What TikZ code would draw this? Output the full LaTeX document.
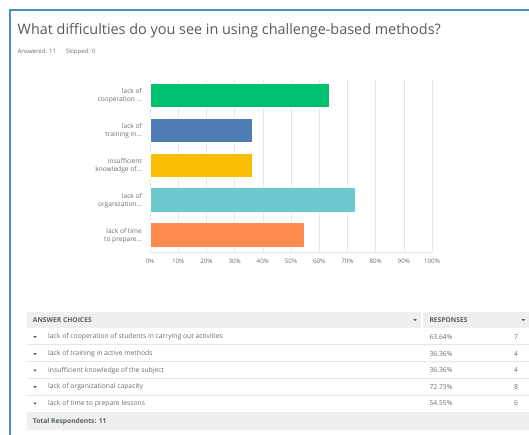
\documentclass[tikz,border=0pt]{standalone}
\usepackage{fontspec}
\setmainfont{Open Sans}
\definecolor{framec}{HTML}{4A90BF}
\definecolor{titlec}{HTML}{555A5F}
\definecolor{txtc}{HTML}{6B6E72}
\definecolor{gridc}{HTML}{E6E6E6}
\definecolor{hdrc}{HTML}{EEEFEF}
\definecolor{cgreen}{HTML}{00BF6F}
\definecolor{cblue}{HTML}{507CB6}
\definecolor{cyellow}{HTML}{F9BE00}
\definecolor{cteal}{HTML}{6BC8CD}
\definecolor{corange}{HTML}{FF8B4F}
\tikzset{
  framel/.style={draw=framec, line width=1.6pt},
  titletxt/.style={font=\fontsize{14.4}{16}\selectfont, text=titlec, inner sep=0pt},
  smalltxt/.style={font=\fontsize{6}{7}\selectfont, text=txtc, inner sep=0pt},
  gridl/.style={draw=gridc, line width=0.5pt},
  ticktxt/.style={font=\fontsize{6.2}{7}\selectfont, text=txtc, inner sep=0pt},
  barlab/.style={font=\fontsize{6.6}{8.3}\selectfont, text=txtc, inner sep=0pt, align=right, anchor=east},
  bar/.style={draw=white, line width=0.6pt},
  tabtxt/.style={font=\fontsize{6.8}{8}\selectfont, text=txtc, inner sep=0pt, anchor=west},
  numtxt/.style={font=\fontsize{6.8}{8}\selectfont, text=txtc, inner sep=0pt, anchor=west},
  hdrtxt/.style={font=\fontsize{6.7}{8}\selectfont\bfseries, text=txtc!85!black, inner sep=0pt, anchor=west},
  tri/.style={fill=txtc!80!black},
}
\newcommand{\mytri}[2]{\fill[tri] (#1-1.8,#2-1) -- (#1+1.8,#2-1) -- (#1,#2+1.1) -- cycle;}
\begin{document}
\begin{tikzpicture}[x=1pt,y=-1pt]
\useasboundingbox (0,0) rectangle (529,435);
\fill[white] (0,0) rectangle (529,435);
\draw[framel] (10,436) -- (10,10) -- (530,10);
% title
\node[titletxt, anchor=base west] (title) at (17.5,35) {What difficulties do you see in using challenge-based methods?};
\node[smalltxt, anchor=base west] (ans) at (17.5,53.5) {Answered: 11\hspace{10pt}Skipped: 0};
% grid
\foreach \i in {0,...,10} {
  \draw[gridl] (150+28.2*\i,80) -- (150+28.2*\i,252);
}
\draw[gridl] (150,252) -- (432,252);
\node[ticktxt] (t0) at (150,261.5) {0\%};
\foreach \i in {1,...,10} {
  \node[ticktxt] (t\i) at (150+28.2*\i,261.5) {\i0\%};
}
% bars
\foreach \v/\c/\y [count=\k] in {63.64/cgreen/83, 36.36/cblue/118, 36.36/cyellow/153, 72.73/cteal/187.5, 54.55/corange/222.5} {
  \filldraw[bar, fill=\c] (150.5,\y) rectangle (150+2.82*\v,\y+24.5);
}
\node[barlab] (l1) at (142,96) {lack of\\cooperation ...};
\node[barlab] (l2) at (142,131) {lack of\\training in...};
\node[barlab] (l3) at (142,166) {insufficient\\knowledge of...};
\node[barlab] (l4) at (142,200.5) {lack of\\organization...};
\node[barlab] (l5) at (142,235.5) {lack of time\\to prepare...};
% table header
\fill[hdrc] (26.7,311.7) rectangle (420.7,327.7);
\fill[hdrc] (423.3,311.7) rectangle (529,327.7);
\node[hdrtxt] (h1) at (32.7,320) {ANSWER CHOICES};
\node[hdrtxt] (h2) at (429.3,320) {RESPONSES};
\mytri{415}{320}
\mytri{523.3}{320}
% row separators
\foreach \y in {344.5,361.5,378.3,395} {
  \draw[gridl] (26.7,\y) -- (529,\y);
}
% total row
\fill[hdrc] (26.7,411.7) rectangle (529,430);
\node[hdrtxt] (tot) at (32.7,421.5) {Total Respondents: 11};
% rows
\foreach \t/\p/\n/\y [count=\k] in {
  lack of cooperation of students in carrying out activities/63.64\%/7/337,
  lack of training in active methods/36.36\%/4/354,
  insufficient knowledge of the subject/36.36\%/4/370.5,
  lack of organizational capacity/72.73\%/8/387,
  lack of time to prepare lessons/54.55\%/6/403.5} {
  \mytri{35}{\y}
  \node[tabtxt] (r\k) at (48,\y) {\t};
  \node[numtxt] (p\k) at (429.3,\y) {\p};
  \node[numtxt, anchor=center] (n\k) at (516,\y) {\n};
}
\end{tikzpicture}
\end{document}
